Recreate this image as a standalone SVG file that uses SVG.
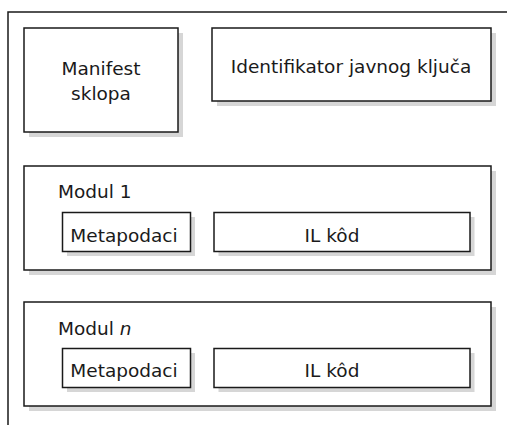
<svg xmlns="http://www.w3.org/2000/svg" width="507" height="425" viewBox="0 0 507 425">
  <style>
    .box { fill: #ffffff; stroke: #1a1a1a; stroke-width: 1.5; }
    .shadow { fill: #d6d6d6; }
    .frame { fill: none; stroke: #1a1a1a; stroke-width: 1.5; }
    text { font-family: "DejaVu Sans", "Liberation Sans", sans-serif; font-size: 18.5px; fill: #1a1a1a; }
    .c { text-anchor: middle; }
  </style>
  <rect width="507" height="425" fill="#ffffff"/>
  <!-- assembly frame: only top and left edges visible -->
  <path class="frame" d="M8,425 V12 H507"/>

  <g id="manifest">
    <rect class="shadow" x="29" y="33" width="154" height="104"/>
    <rect class="box" x="24" y="28" width="154" height="104"/>
    <text class="c" x="101" y="75">Manifest</text>
    <text class="c" x="101" y="100">sklopa</text>
  </g>

  <g id="public-key">
    <rect class="shadow" x="217" y="33" width="279" height="73"/>
    <rect class="box" x="212" y="28" width="279" height="73"/>
    <text class="c" x="351" y="73">Identifikator javnog ključa</text>
  </g>

  <g id="module-1">
    <rect class="shadow" x="29" y="171" width="467" height="104"/>
    <rect class="box" x="24" y="166" width="467" height="104"/>
    <text x="58" y="198">Modul 1</text>
    <g id="module-1-metadata">
      <rect class="shadow" x="67" y="217" width="128" height="39"/>
      <rect class="box" x="62.5" y="212.5" width="128" height="39"/>
      <text class="c" x="124" y="241.5">Metapodaci</text>
    </g>
    <g id="module-1-il">
      <rect class="shadow" x="218.5" y="217" width="256" height="39"/>
      <rect class="box" x="214" y="212.5" width="256" height="39"/>
      <text class="c" x="332" y="241.5">IL kôd</text>
    </g>
  </g>

  <g id="module-n">
    <rect class="shadow" x="29" y="307" width="467" height="104"/>
    <rect class="box" x="24" y="302" width="467" height="104"/>
    <text x="58" y="335">Modul <tspan font-style="italic">n</tspan></text>
    <g id="module-n-metadata">
      <rect class="shadow" x="67" y="353" width="128" height="39"/>
      <rect class="box" x="62.5" y="348.5" width="128" height="39"/>
      <text class="c" x="124" y="377">Metapodaci</text>
    </g>
    <g id="module-n-il">
      <rect class="shadow" x="218.5" y="353" width="256" height="39"/>
      <rect class="box" x="214" y="348.5" width="256" height="39"/>
      <text class="c" x="332" y="377">IL kôd</text>
    </g>
  </g>
</svg>
